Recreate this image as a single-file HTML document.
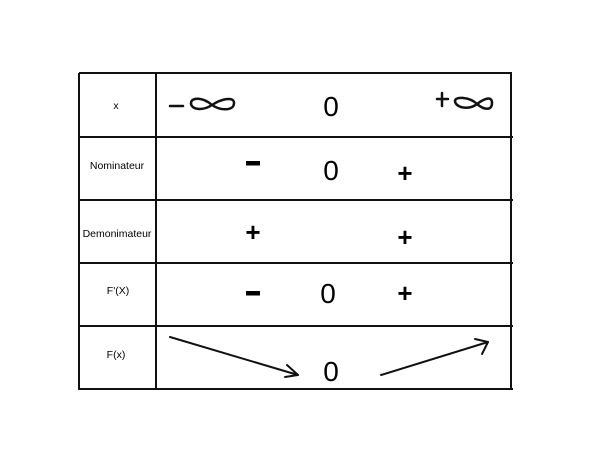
<!DOCTYPE html>
<html><head><meta charset="utf-8"><style>
html,body{margin:0;padding:0;background:#fff;width:600px;height:450px;overflow:hidden}
svg{display:block}
.l{font-family:"Liberation Sans",sans-serif;font-size:10.5px;fill:#000;text-anchor:middle}
.z{font-family:"Liberation Sans",sans-serif;font-size:28px;fill:#000;text-anchor:middle}
.s{font-family:"Liberation Sans",sans-serif;font-size:26px;font-weight:bold;fill:#000;text-anchor:middle}
</style></head><body>
<svg width="600" height="450" viewBox="0 0 600 450">
<g stroke="#111" stroke-width="2" fill="none">
<line x1="79" y1="73" x2="512" y2="73"/>
<line x1="78" y1="137" x2="513" y2="137"/>
<line x1="78" y1="200" x2="513" y2="200"/>
<line x1="78" y1="263" x2="513" y2="263"/>
<line x1="78" y1="326" x2="513" y2="326"/>
<line x1="78" y1="389" x2="513" y2="389"/>
<line x1="79" y1="73" x2="79" y2="390"/>
<line x1="156" y1="73" x2="156" y2="390"/>
<line x1="511" y1="73" x2="511" y2="390"/>
</g>
<text class="l" x="116" y="109">x</text>
<text class="l" x="117" y="169">Nominateur</text>
<text class="l" x="117" y="237">Demonimateur</text>
<text class="l" x="118" y="294">F'(X)</text>
<text class="l" x="116" y="358">F(x)</text>
<g stroke="#111" stroke-width="2.5" fill="none" stroke-linecap="round">
<line x1="170" y1="106" x2="183" y2="106"/>
<path d="M212,105 C203,97 191,97 191,103 C191,110 203,111 212,105 C221,99 234,96 234,103 C234,111 221,111 212,105 Z"/>
<line x1="437" y1="99" x2="448" y2="99"/>
<line x1="442" y1="93" x2="442" y2="106"/>
<path d="M477,104 C470,97 455,96 455,101 C455,107 468,111 477,104 C485,98 492,96 492,103 C492,111 484,110 477,104 Z"/>
</g>
<text class="z" x="331" y="116">0</text>
<rect x="246" y="161" width="14" height="4.5" fill="#000"/>
<text class="z" x="331" y="180">0</text>
<text class="s" x="405" y="182">+</text>
<text class="s" x="253" y="241">+</text>
<text class="s" x="405" y="246">+</text>
<rect x="246" y="291" width="14" height="4.5" fill="#000"/>
<text class="z" x="328" y="303">0</text>
<text class="s" x="405" y="302">+</text>
<text class="z" x="331" y="381">0</text>
<g stroke="#111" stroke-width="2" fill="none" stroke-linecap="round" stroke-linejoin="round">
<line x1="170" y1="337" x2="298" y2="375"/>
<polyline points="287,365 298,375 285,377"/>
<line x1="381" y1="375" x2="488" y2="342"/>
<polyline points="475,339 488,342 482,354"/>
</g>
</svg>
</body></html>
